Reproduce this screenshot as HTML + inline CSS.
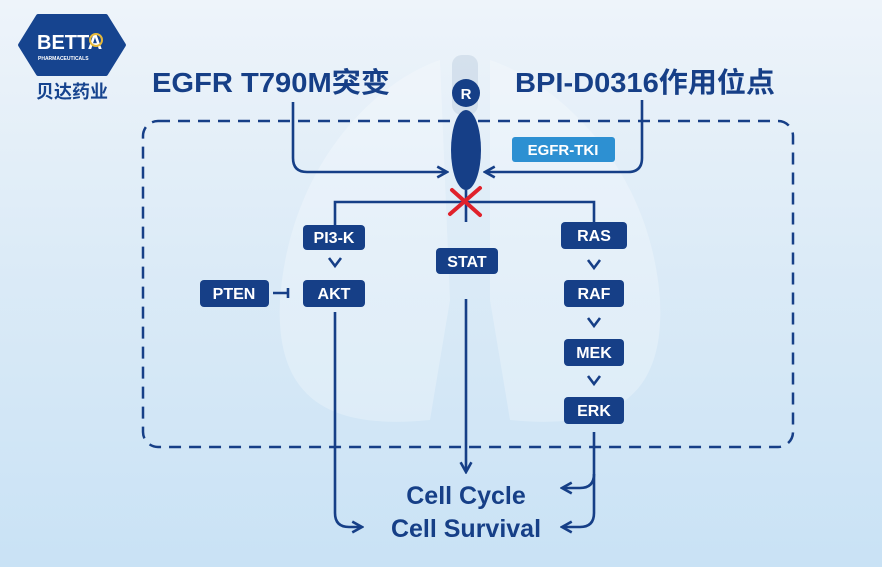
<!DOCTYPE html>
<html><head><meta charset="utf-8"><style>
html,body{margin:0;padding:0;width:882px;height:567px;overflow:hidden}
body{background:linear-gradient(180deg,#eef4fa 0%,#dcebf7 45%,#c9e2f5 100%)}
svg{display:block}
text{font-family:"Liberation Sans","Noto Sans CJK SC",sans-serif;font-weight:bold}
</style></head><body>
<svg width="882" height="567" viewBox="0 0 882 567">
<defs>
<marker id="ah" viewBox="0 0 12 12" refX="10" refY="6" markerWidth="13" markerHeight="13" markerUnits="userSpaceOnUse" orient="auto">
<path d="M1,1 L10,6 L1,11" fill="none" stroke="#163f87" stroke-width="2.4"/></marker>
</defs>
<path d="M440,60 C380,80 290,160 280,300 C275,400 330,430 430,420 L450,300 Z" fill="#ffffff" opacity="0.25"/>
<path d="M490,60 C550,80 650,160 660,300 C665,400 610,430 510,420 L490,300 Z" fill="#ffffff" opacity="0.25"/>
<rect x="452" y="55" width="26" height="60" rx="10" fill="#c6d6e4" opacity="0.6"/>
<path d="M38,16 L106,16 L124,45 L106,74 L38,74 L20,45 Z" fill="#16448f" stroke="#16448f" stroke-width="4" stroke-linejoin="round"/>
<text x="37" y="49" font-size="20" fill="#fff">BETTA</text>
<text x="38" y="60" font-size="5" fill="#fff">PHARMACEUTICALS</text>
<circle cx="96" cy="40" r="6" fill="none" stroke="#e6b93a" stroke-width="2"/>
<text x="72" y="98" font-size="18" fill="#16448f" text-anchor="middle">贝达药业</text>
<text x="152" y="92" font-size="28" fill="#163f87" textLength="238" lengthAdjust="spacingAndGlyphs">EGFR T790M突变</text>
<text x="515" y="92" font-size="28" fill="#163f87" textLength="260" lengthAdjust="spacingAndGlyphs">BPI-D0316作用位点</text>
<rect x="143" y="121" width="650" height="326" rx="15" fill="none" stroke="#163f87" stroke-width="2.5" stroke-dasharray="12 8"/>
<circle cx="466" cy="93" r="14" fill="#163f87"/>
<text x="466" y="99" font-size="15" fill="#fff" text-anchor="middle">R</text>
<ellipse cx="466" cy="150" rx="15" ry="40" fill="#163f87"/>
<g fill="none" stroke="#163f87" stroke-width="2.6">
<path d="M293,102 L293,158 Q293,172 307,172 L447,172" marker-end="url(#ah)"/>
<path d="M642,100 L642,158 Q642,172 628,172 L485,172" marker-end="url(#ah)"/>
<path d="M335,226 L335,202 L594,202 L594,224"/>
<path d="M466,190 L466,222"/>
<path d="M329,258 L335,266 L341,258"/>
<path d="M588,260 L594,268 L600,260"/>
<path d="M588,318 L594,326 L600,318"/>
<path d="M588,376 L594,384 L600,376"/>
<path d="M273,293 L287,293 M288,288 L288,298"/>
<path d="M335,312 L335,513 Q335,527 349,527 L362,527" marker-end="url(#ah)"/>
<path d="M466,299 L466,472" marker-end="url(#ah)"/>
<path d="M594,432 L594,513 Q594,527 580,527 L562,527" marker-end="url(#ah)"/>
<path d="M594,474 Q594,488 580,488 L562,488" marker-end="url(#ah)"/>
</g>
<rect x="512" y="137" width="103" height="25" rx="3" fill="#2d90d2"/>
<text x="563" y="155" font-size="15" fill="#fff" text-anchor="middle">EGFR-TKI</text>
<path d="M452,190 L480,215 M480,188 L450,214" stroke="#e0212b" stroke-width="4" stroke-linecap="round"/>
<g fill="#163f87">
<rect x="303" y="225" width="62" height="25" rx="4"/>
<rect x="436" y="248" width="62" height="26" rx="4"/>
<rect x="561" y="222" width="66" height="27" rx="4"/>
<rect x="303" y="280" width="62" height="27" rx="4"/>
<rect x="200" y="280" width="69" height="27" rx="4"/>
<rect x="564" y="280" width="60" height="27" rx="4"/>
<rect x="564" y="339" width="60" height="27" rx="4"/>
<rect x="564" y="397" width="60" height="27" rx="4"/>
</g>
<g fill="#fff" font-size="16" text-anchor="middle">
<text x="334" y="243">PI3-K</text>
<text x="467" y="267">STAT</text>
<text x="594" y="241">RAS</text>
<text x="334" y="299">AKT</text>
<text x="234" y="299">PTEN</text>
<text x="594" y="299">RAF</text>
<text x="594" y="358">MEK</text>
<text x="594" y="416">ERK</text>
</g>
<text x="466" y="504" font-size="25" fill="#163f87" text-anchor="middle">Cell Cycle</text>
<text x="466" y="537" font-size="25" fill="#163f87" text-anchor="middle">Cell Survival</text>
</svg>
</body></html>
